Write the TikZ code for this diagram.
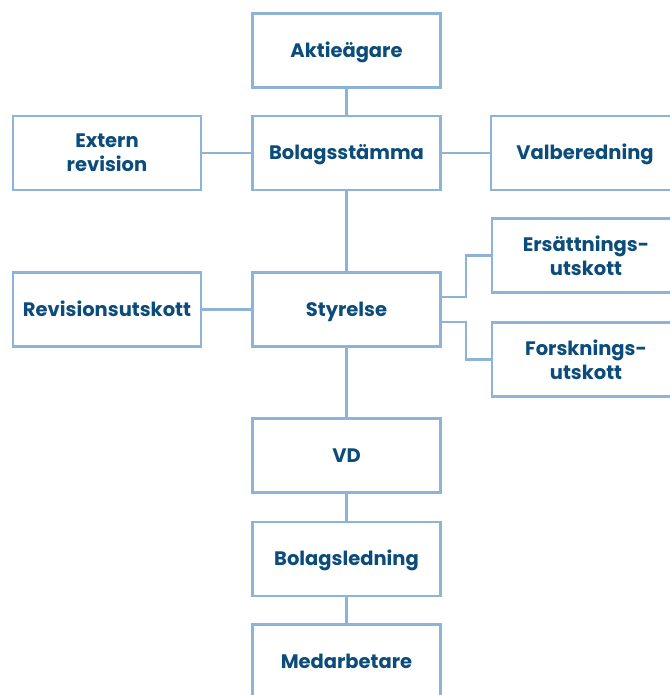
\documentclass[tikz,border=0pt]{standalone}
\usepackage{fontspec}
\setmainfont{Poppins}
\definecolor{linec}{HTML}{8DB4D6}
\definecolor{textc}{HTML}{0B4C7A}
\begin{document}
\begin{tikzpicture}[x=1pt,y=-1pt,
  box/.style={draw=linec, line width=2.8pt, fill=white, minimum width=188pt, minimum height=74pt,
    inner sep=0pt, align=center, text=textc, font=\fontsize{19.5}{24}\selectfont\bfseries},
  one/.style={box, text height=13.8pt, text depth=0pt},
  conn/.style={draw=linec, line width=2.8pt}]
\useasboundingbox (0,0) rectangle (669,695);
\node[one] (aktie) at (346.5,50.5) {Aktieägare};
\node[one] (bolag) at (346.5,153) {Bolagsstämma};
\node[box] (extern) at (107,153) {Extern\\revision};
\node[one] (valb) at (585,153) {Valberedning};
\node[one] (styr) at (346.5,309.5) {Styrelse};
\node[one] (revu) at (107,309.5) {Revisionsutskott};
\node[box] (ers) at (586,255.5) {Ersättnings-\\utskott};
\node[box] (fors) at (586,359.5) {Forsknings-\\utskott};
\node[one] (vd) at (346.5,455.5) {VD};
\node[one] (bled) at (346.5,559) {Bolagsledning};
\node[one] (med) at (346.5,661.5) {Medarbetare};
\draw[conn] (aktie) -- (bolag);
\draw[conn] (bolag) -- (styr);
\draw[conn] (styr) -- (vd);
\draw[conn] (vd) -- (bled);
\draw[conn] (bled) -- (med);
\draw[conn] (extern.east) -- (bolag.west);
\draw[conn] (bolag.east) -- (valb.west);
\draw[conn] (revu.east) -- (styr.west);
\draw[conn] ([yshift=12.5pt]styr.east) -- ++(24,0) |- (ers.west);
\draw[conn] ([yshift=-12.5pt]styr.east) -- ++(24,0) |- (fors.west);
\end{tikzpicture}
\end{document}
